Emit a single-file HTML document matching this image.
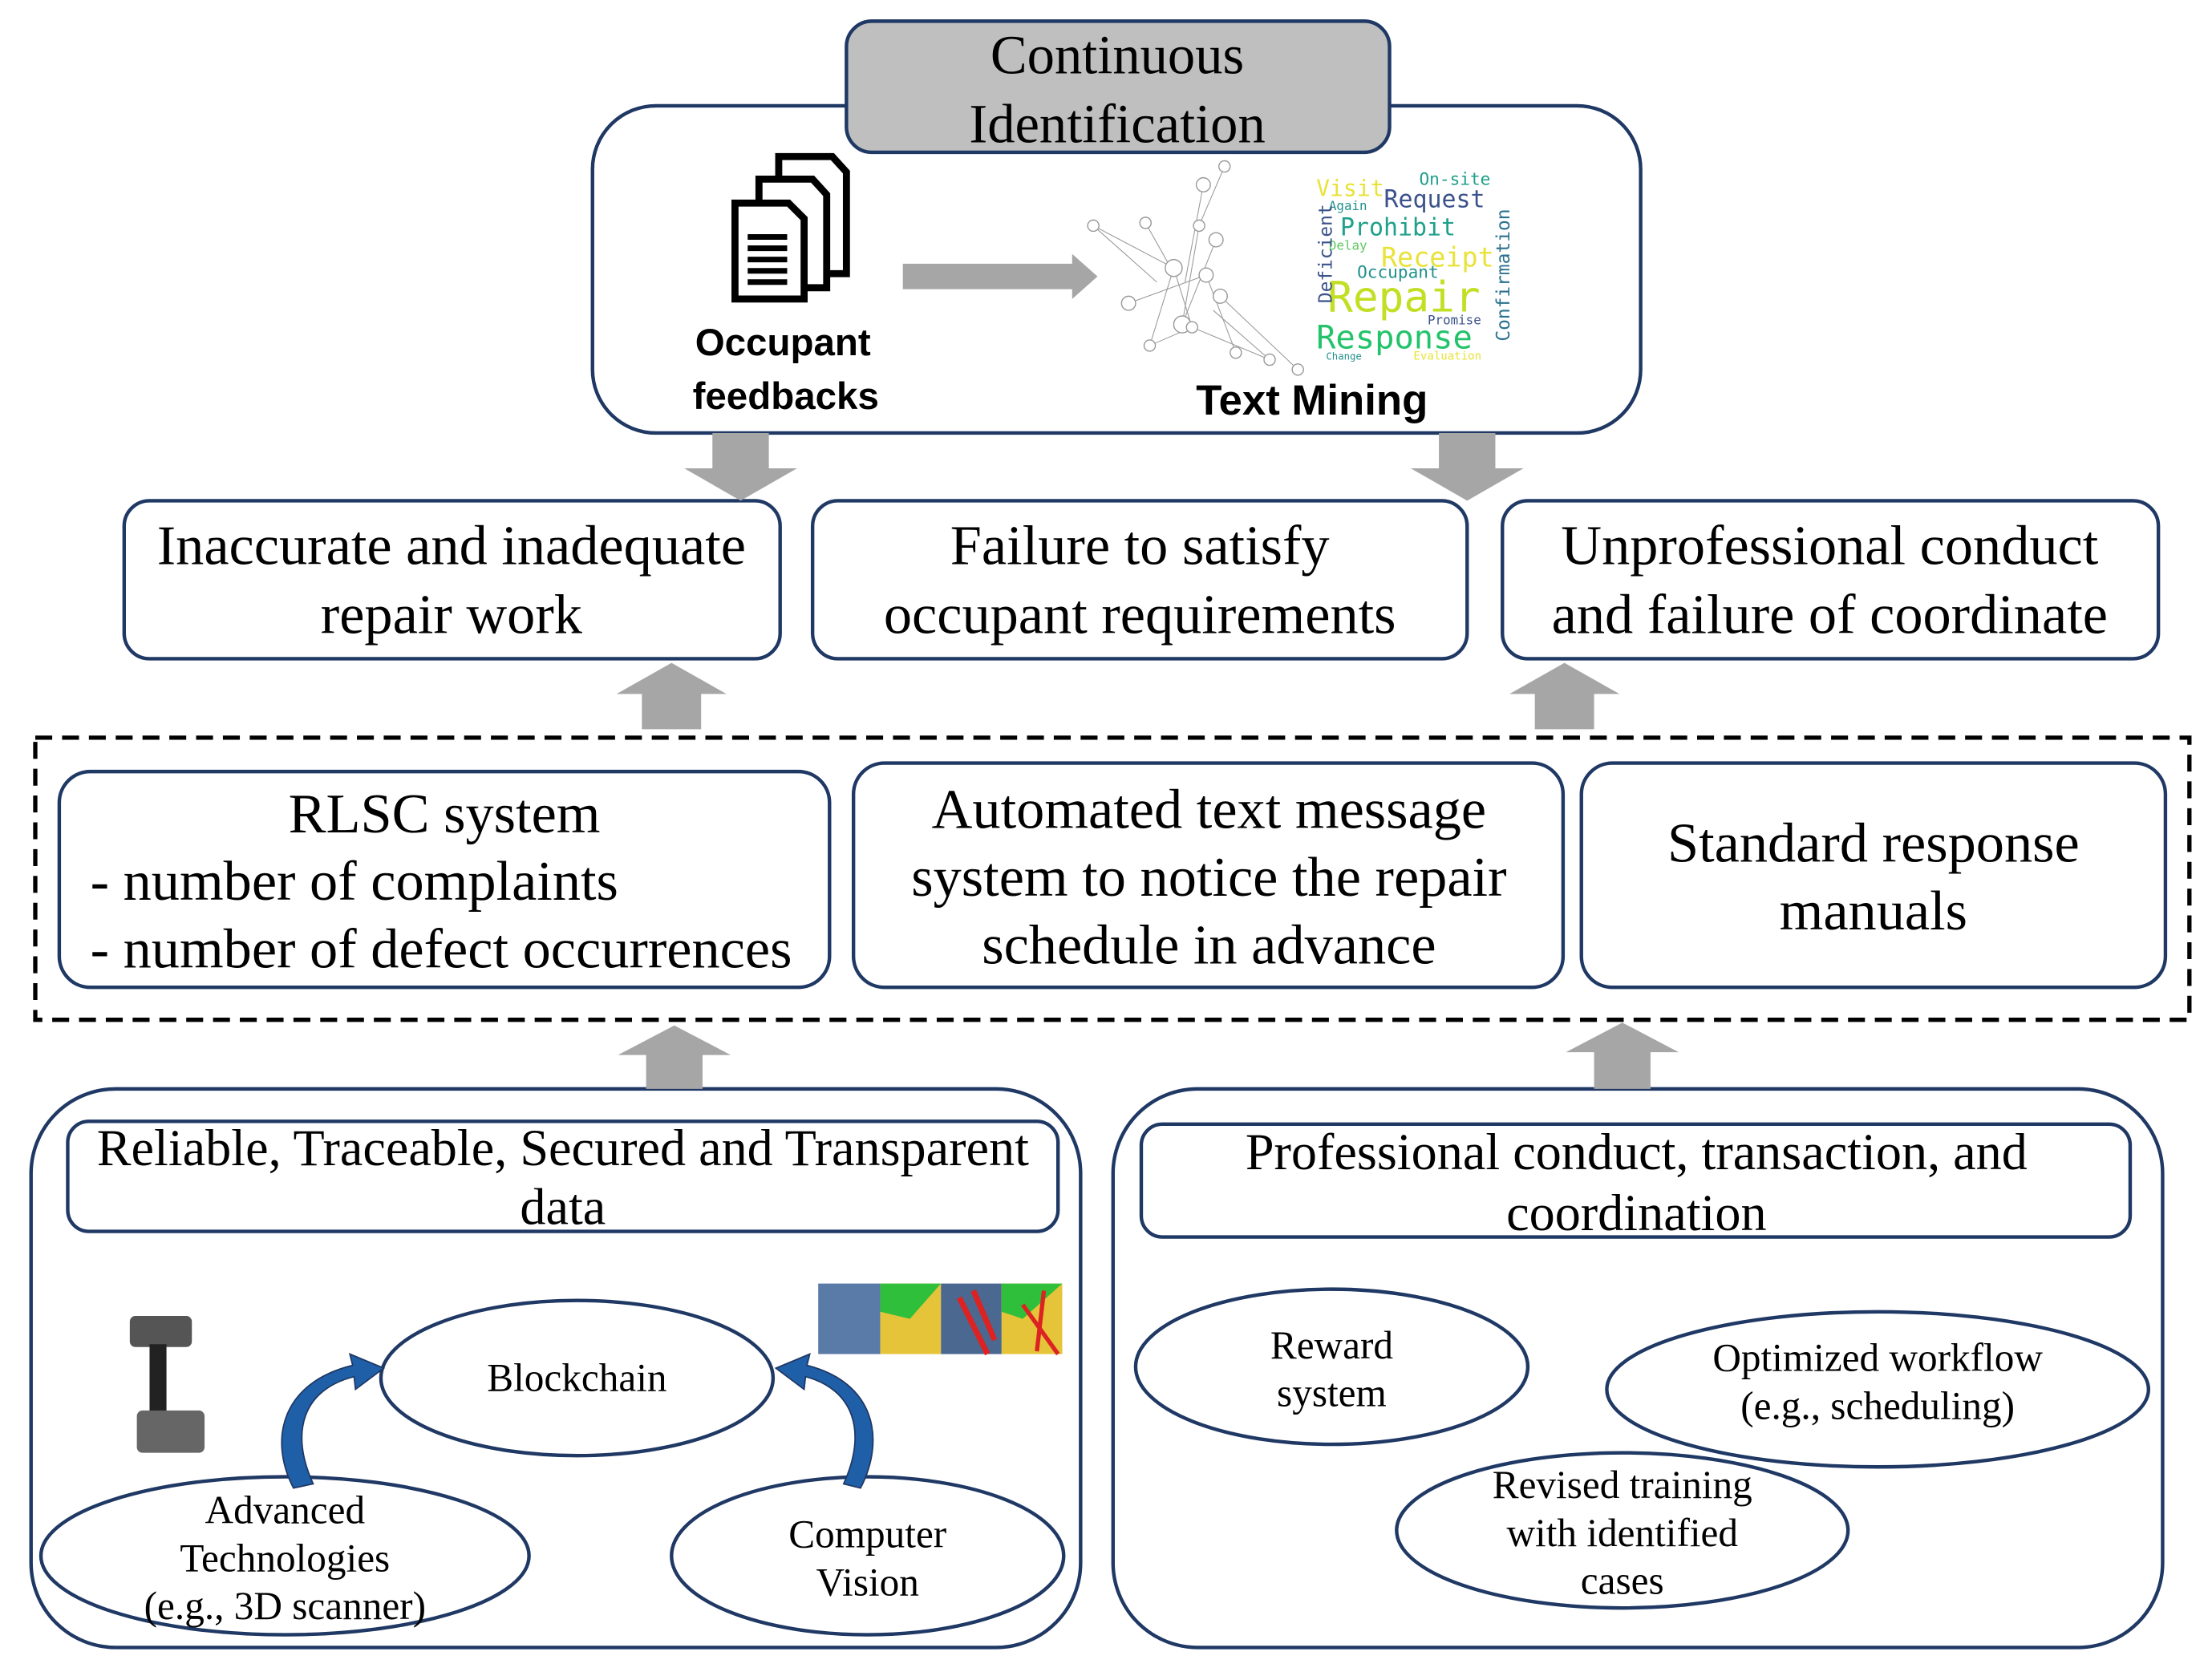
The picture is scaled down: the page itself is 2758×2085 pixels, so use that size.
<!DOCTYPE html>
<html><head><meta charset="utf-8"><style>html,body{margin:0;padding:0;background:#fff}svg{display:block}</style></head>
<body>
<svg width="2758" height="2085" viewBox="0 0 1568 1185.4" xmlns="http://www.w3.org/2000/svg" font-family="'Liberation Serif', serif">
<g fill="none" stroke="#1f3864" stroke-width="2.5">
<rect x="420" y="75" width="743" height="232" rx="45"/>
<rect x="88" y="355" width="465" height="112" rx="18"/>
<rect x="576" y="355" width="464" height="112" rx="18"/>
<rect x="1065" y="355" width="465" height="112" rx="18"/>
<rect x="42" y="547" width="546" height="153" rx="22"/>
<rect x="605" y="541" width="503" height="159" rx="22"/>
<rect x="1121" y="541" width="414" height="159" rx="22"/>
<rect x="22" y="772" width="744" height="396" rx="60"/>
<rect x="48" y="795" width="702" height="78" rx="15"/>
<rect x="789" y="772" width="744" height="396" rx="60"/>
<rect x="809" y="797" width="701" height="80" rx="15"/>
<ellipse cx="409" cy="977" rx="139" ry="55"/>
<ellipse cx="202" cy="1103" rx="173" ry="56"/>
<ellipse cx="615" cy="1103" rx="139" ry="56"/>
<ellipse cx="944" cy="969" rx="139" ry="55"/>
<ellipse cx="1331" cy="985" rx="192" ry="55"/>
<ellipse cx="1150" cy="1085" rx="160" ry="55"/>
</g>
<rect x="25" y="523" width="1527" height="200" fill="none" stroke="#000" stroke-width="3" stroke-dasharray="12,7"/>
<rect x="600" y="15" width="385" height="93" rx="18" fill="#bfbfbf" stroke="#1f3864" stroke-width="2.5"/>
<g font-size="39" text-anchor="middle" fill="#000">
<text x="792" y="52">Continuous</text>
<text x="792" y="101">Identification</text>
</g>
<g fill="#a6a6a6">
<polygon points="505,307 545,307 545,332 565,332 525,355 485,332 505,332"/>
<polygon points="1020,307 1060,307 1060,332 1080,332 1040,355 1000,332 1020,332"/>
<polygon points="455,517 497,517 497,492 515,492 476,470 437,492 455,492"/>
<polygon points="1088,517 1130,517 1130,492 1148,492 1109,470 1070,492 1088,492"/>
<polygon points="458,772 498,772 498,748 518,748 478,727 438,748 458,748"/>
<polygon points="1130,772 1170,772 1170,746 1190,746 1150,725 1110,746 1130,746"/>
<polygon points="640,187 760,187 760,180 778,196 760,212 760,205 640,205"/>
</g>
<g fill="#fff" stroke="#000" stroke-width="5">
<path d="M552,111 H590 L600,122 V194 H552 Z"/>
<path d="M538,127 H576 L586,138 V204 H538 Z"/>
<path d="M521,144 H559 L570,155 V212 H521 Z"/>
</g>
<g stroke="#000" stroke-width="4"><line x1="530" y1="168" x2="558" y2="168"/><line x1="530" y1="176" x2="558" y2="176"/><line x1="530" y1="184" x2="558" y2="184"/><line x1="530" y1="192" x2="558" y2="192"/><line x1="530" y1="200" x2="558" y2="200"/></g>
<g font-family="'Liberation Sans', sans-serif" font-weight="bold" fill="#000">
<text x="555" y="252" font-size="27" text-anchor="middle">Occupant</text>
<text x="557" y="290" font-size="27" text-anchor="middle">feedbacks</text>
<text x="930" y="294" font-size="30" text-anchor="middle">Text Mining</text>
</g>
<g stroke="#999" stroke-width="0.6" fill="none">
<line x1="775" y1="160" x2="832" y2="190"/><line x1="812" y1="158" x2="830" y2="190"/><line x1="853" y1="131" x2="840" y2="200"/><line x1="868" y1="118" x2="850" y2="160"/><line x1="850" y1="160" x2="838" y2="230"/><line x1="832" y1="190" x2="845" y2="232"/><line x1="845" y1="232" x2="900" y2="255"/><line x1="865" y1="210" x2="920" y2="262"/><line x1="832" y1="190" x2="815" y2="245"/><line x1="800" y1="215" x2="855" y2="195"/><line x1="855" y1="195" x2="876" y2="250"/><line x1="862" y1="170" x2="838" y2="230"/><line x1="775" y1="160" x2="820" y2="200"/><line x1="815" y1="245" x2="845" y2="232"/><line x1="860" y1="220" x2="900" y2="255"/></g>
<g fill="#fff" stroke="#999" stroke-width="0.8">
<circle cx="868" cy="118" r="4"/><circle cx="853" cy="131" r="5"/><circle cx="775" cy="160" r="4"/><circle cx="812" cy="158" r="4"/><circle cx="850" cy="160" r="4"/><circle cx="862" cy="170" r="5"/><circle cx="832" cy="190" r="6"/><circle cx="855" cy="195" r="5"/><circle cx="865" cy="210" r="5"/><circle cx="800" cy="215" r="5"/><circle cx="838" cy="230" r="6"/><circle cx="876" cy="250" r="4"/><circle cx="815" cy="245" r="4"/><circle cx="845" cy="232" r="4"/><circle cx="900" cy="255" r="4"/><circle cx="920" cy="262" r="4"/></g>
<g font-family="'DejaVu Sans Mono', monospace">
<text x="933" y="139" font-size="16" fill="#e8e33a">Visit</text>
<text x="1006" y="131" font-size="12" fill="#1fa08a">On-site</text>
<text x="981" y="147" font-size="17" fill="#3b528b">Request</text>
<text x="942" y="149" font-size="9" fill="#21918c">Again</text>
<text x="950" y="167" font-size="17" fill="#1fa08a">Prohibit</text>
<text x="979" y="189" font-size="19" fill="#e8e33a">Receipt</text>
<text x="962" y="197" font-size="12" fill="#21918c">Occupant</text>
<text x="942" y="177" font-size="9" fill="#5ec962">Delay</text>
<text x="941" y="221" font-size="30" fill="#c2df23">Repair</text>
<text x="933" y="247" font-size="23" fill="#22c36a">Response</text>
<text x="1012" y="230" font-size="9" fill="#3b528b">Promise</text>
<text x="1002" y="255" font-size="8" fill="#e8e33a">Evaluation</text>
<text x="940" y="255" font-size="7" fill="#21918c">Change</text>
<text transform="translate(944,215) rotate(-90)" font-size="13" fill="#3b528b">Deficient</text>
<text transform="translate(1070,242) rotate(-90)" font-size="13" fill="#2c728e">Confirmation</text>
</g>
<rect x="92" y="933" width="44" height="22" rx="4" fill="#555"/>
<rect x="106" y="953" width="12" height="50" fill="#222"/>
<rect x="97" y="1000" width="48" height="30" rx="4" fill="#666"/>
<rect x="580" y="910" width="44" height="50" fill="#5a7aa8"/>
<rect x="624" y="910" width="43" height="50" fill="#e6c43a"/><polygon points="624,910 667,910 645,935 624,930" fill="#2fbf3a"/>
<rect x="667" y="910" width="43" height="50" fill="#4a6890"/><path d="M680,920 L700,960 M690,915 L705,950" stroke="#d22" stroke-width="4"/>
<rect x="710" y="910" width="43" height="50" fill="#e6c43a"/><polygon points="710,910 753,910 725,935 710,930" fill="#2fbf3a"/><path d="M725,925 L750,960 M740,915 L735,958" stroke="#d22" stroke-width="3"/>
<g fill="#1f5fa8" stroke="#1f3864" stroke-width="1">
<path d="M208,1055 C190,1020 200,980 250,968 L248,960 L272,970 L252,985 L251,976 C215,985 205,1015 222,1052 Z"/>
<path d="M610,1055 C628,1020 620,980 572,968 L574,960 L550,970 L570,985 L571,976 C605,985 615,1015 598,1052 Z"/>
</g>
<g font-size="40" text-anchor="middle" fill="#000">
<text x="320" y="400">Inaccurate and inadequate</text><text x="320" y="449">repair work</text>
<text x="808" y="400">Failure to satisfy</text><text x="808" y="449">occupant requirements</text>
<text x="1297" y="400">Unprofessional conduct</text><text x="1297" y="449">and failure of coordinate</text>
<text x="315" y="590">RLSC system</text>
<text x="857" y="587">Automated text message</text><text x="857" y="635">system to notice the repair</text><text x="857" y="683">schedule in advance</text>
<text x="1328" y="611">Standard response</text><text x="1328" y="659">manuals</text>
</g>
<g font-size="40" fill="#000">
<text x="64" y="638">- number of complaints</text>
<text x="64" y="686">- number of defect occurrences</text>
</g>
<g font-size="36.5" text-anchor="middle" fill="#000">
<text x="399" y="826">Reliable, Traceable, Secured and Transparent</text><text x="399" y="868">data</text>
<text x="1160" y="829">Professional conduct, transaction, and</text><text x="1160" y="872">coordination</text>
</g>
<g font-size="28" text-anchor="middle" fill="#000">
<text x="409" y="986">Blockchain</text>
<text x="202" y="1080">Advanced</text><text x="202" y="1114">Technologies</text><text x="202" y="1148">(e.g., 3D scanner)</text>
<text x="615" y="1097">Computer</text><text x="615" y="1131">Vision</text>
<text x="944" y="963">Reward</text><text x="944" y="997">system</text>
<text x="1331" y="972">Optimized workflow</text><text x="1331" y="1006">(e.g., scheduling)</text>
<text x="1150" y="1062">Revised training</text><text x="1150" y="1096">with identified</text><text x="1150" y="1130">cases</text>
</g>
</svg>
</body></html>
